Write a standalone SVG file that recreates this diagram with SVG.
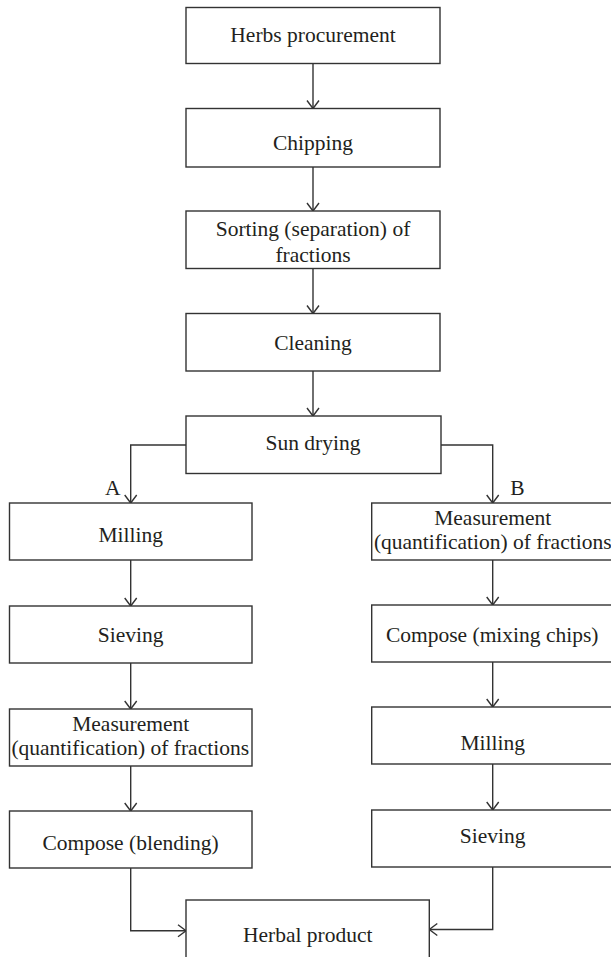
<svg xmlns="http://www.w3.org/2000/svg" width="611" height="957" viewBox="0 0 611 957">
<style>
.box{fill:#fff;stroke:#333;stroke-width:1.4}
.lbl{font-family:"Liberation Serif","Times New Roman",serif;font-size:21.5px;fill:#231f20;text-anchor:middle}
.con{fill:none;stroke:#333;stroke-width:1.4}
</style>
<defs>
<marker id="arr" viewBox="-10 -8 12 16" refX="0" refY="0" markerWidth="12" markerHeight="16" markerUnits="userSpaceOnUse" orient="auto">
<path d="M-8,-6 L0,0 L-8,6" fill="none" stroke="#333" stroke-width="1.4"/>
</marker>
</defs>
<rect width="611" height="957" fill="#fff"/>
<g id="connectors">
<path class="con" d="M313,63.5 V108.5" marker-end="url(#arr)"/>
<path class="con" d="M313,167 V211" marker-end="url(#arr)"/>
<path class="con" d="M313,268.5 V313.5" marker-end="url(#arr)"/>
<path class="con" d="M313,371 V416" marker-end="url(#arr)"/>
<path class="con" d="M186,445 H130.7 V503" marker-end="url(#arr)"/>
<path class="con" d="M441,445 H492.7 V503" marker-end="url(#arr)"/>
<path class="con" d="M130.7,560 V606" marker-end="url(#arr)"/>
<path class="con" d="M130.7,663 V709" marker-end="url(#arr)"/>
<path class="con" d="M130.7,766 V811" marker-end="url(#arr)"/>
<path class="con" d="M492.7,560 V605" marker-end="url(#arr)"/>
<path class="con" d="M492.7,662 V707" marker-end="url(#arr)"/>
<path class="con" d="M492.7,764 V810" marker-end="url(#arr)"/>
<path class="con" d="M130.7,868 V930.7 H186" marker-end="url(#arr)"/>
<path class="con" d="M492.7,867 V929.5 H429.3" marker-end="url(#arr)"/>
<text class="lbl" x="112.7" y="495">A</text>
<text class="lbl" x="517.3" y="495">B</text>
</g>
<g id="herbs">
<rect class="box" x="186" y="7.5" width="254" height="56"/>
<text class="lbl" x="313" y="42">Herbs procurement</text>
</g>
<g id="chipping">
<rect class="box" x="186" y="108.5" width="254" height="58.5"/>
<text class="lbl" x="313" y="150">Chipping</text>
</g>
<g id="sorting">
<rect class="box" x="186" y="211" width="254" height="57.5"/>
<text class="lbl" x="313" y="236">Sorting (separation) of</text>
<text class="lbl" x="313" y="261.5">fractions</text>
</g>
<g id="cleaning">
<rect class="box" x="186" y="313.5" width="254" height="57.5"/>
<text class="lbl" x="313" y="350">Cleaning</text>
</g>
<g id="sundrying">
<rect class="box" x="186" y="416" width="255" height="57.5"/>
<text class="lbl" x="313" y="449.5">Sun drying</text>
</g>
<g id="a-milling">
<rect class="box" x="9.5" y="503" width="242.5" height="57"/>
<text class="lbl" x="130.7" y="541.7">Milling</text>
</g>
<g id="a-sieving">
<rect class="box" x="9.5" y="606" width="242.5" height="57"/>
<text class="lbl" x="130.7" y="641.7">Sieving</text>
</g>
<g id="a-measurement">
<rect class="box" x="9.5" y="709" width="242.5" height="57"/>
<text class="lbl" x="130.7" y="731">Measurement</text>
<text class="lbl" x="130.2" y="755">(quantification) of fractions</text>
</g>
<g id="a-compose">
<rect class="box" x="9.5" y="811" width="242.5" height="57"/>
<text class="lbl" x="130.5" y="850">Compose (blending)</text>
</g>
<g id="b-measurement">
<rect class="box" x="371.7" y="503" width="242.5" height="57"/>
<text class="lbl" x="492.7" y="525">Measurement</text>
<text class="lbl" x="492.7" y="549">(quantification) of fractions</text>
</g>
<g id="b-compose">
<rect class="box" x="371.7" y="605" width="242.5" height="57"/>
<text class="lbl" x="492.2" y="641.7">Compose (mixing chips)</text>
</g>
<g id="b-milling">
<rect class="box" x="371.7" y="707" width="242.5" height="57"/>
<text class="lbl" x="492.7" y="750">Milling</text>
</g>
<g id="b-sieving">
<rect class="box" x="371.7" y="810" width="242.5" height="57"/>
<text class="lbl" x="492.7" y="843.3">Sieving</text>
</g>
<g id="herbal">
<rect class="box" x="186" y="900" width="243.3" height="60"/>
<text class="lbl" x="307.7" y="941.7">Herbal product</text>
</g>
</svg>
